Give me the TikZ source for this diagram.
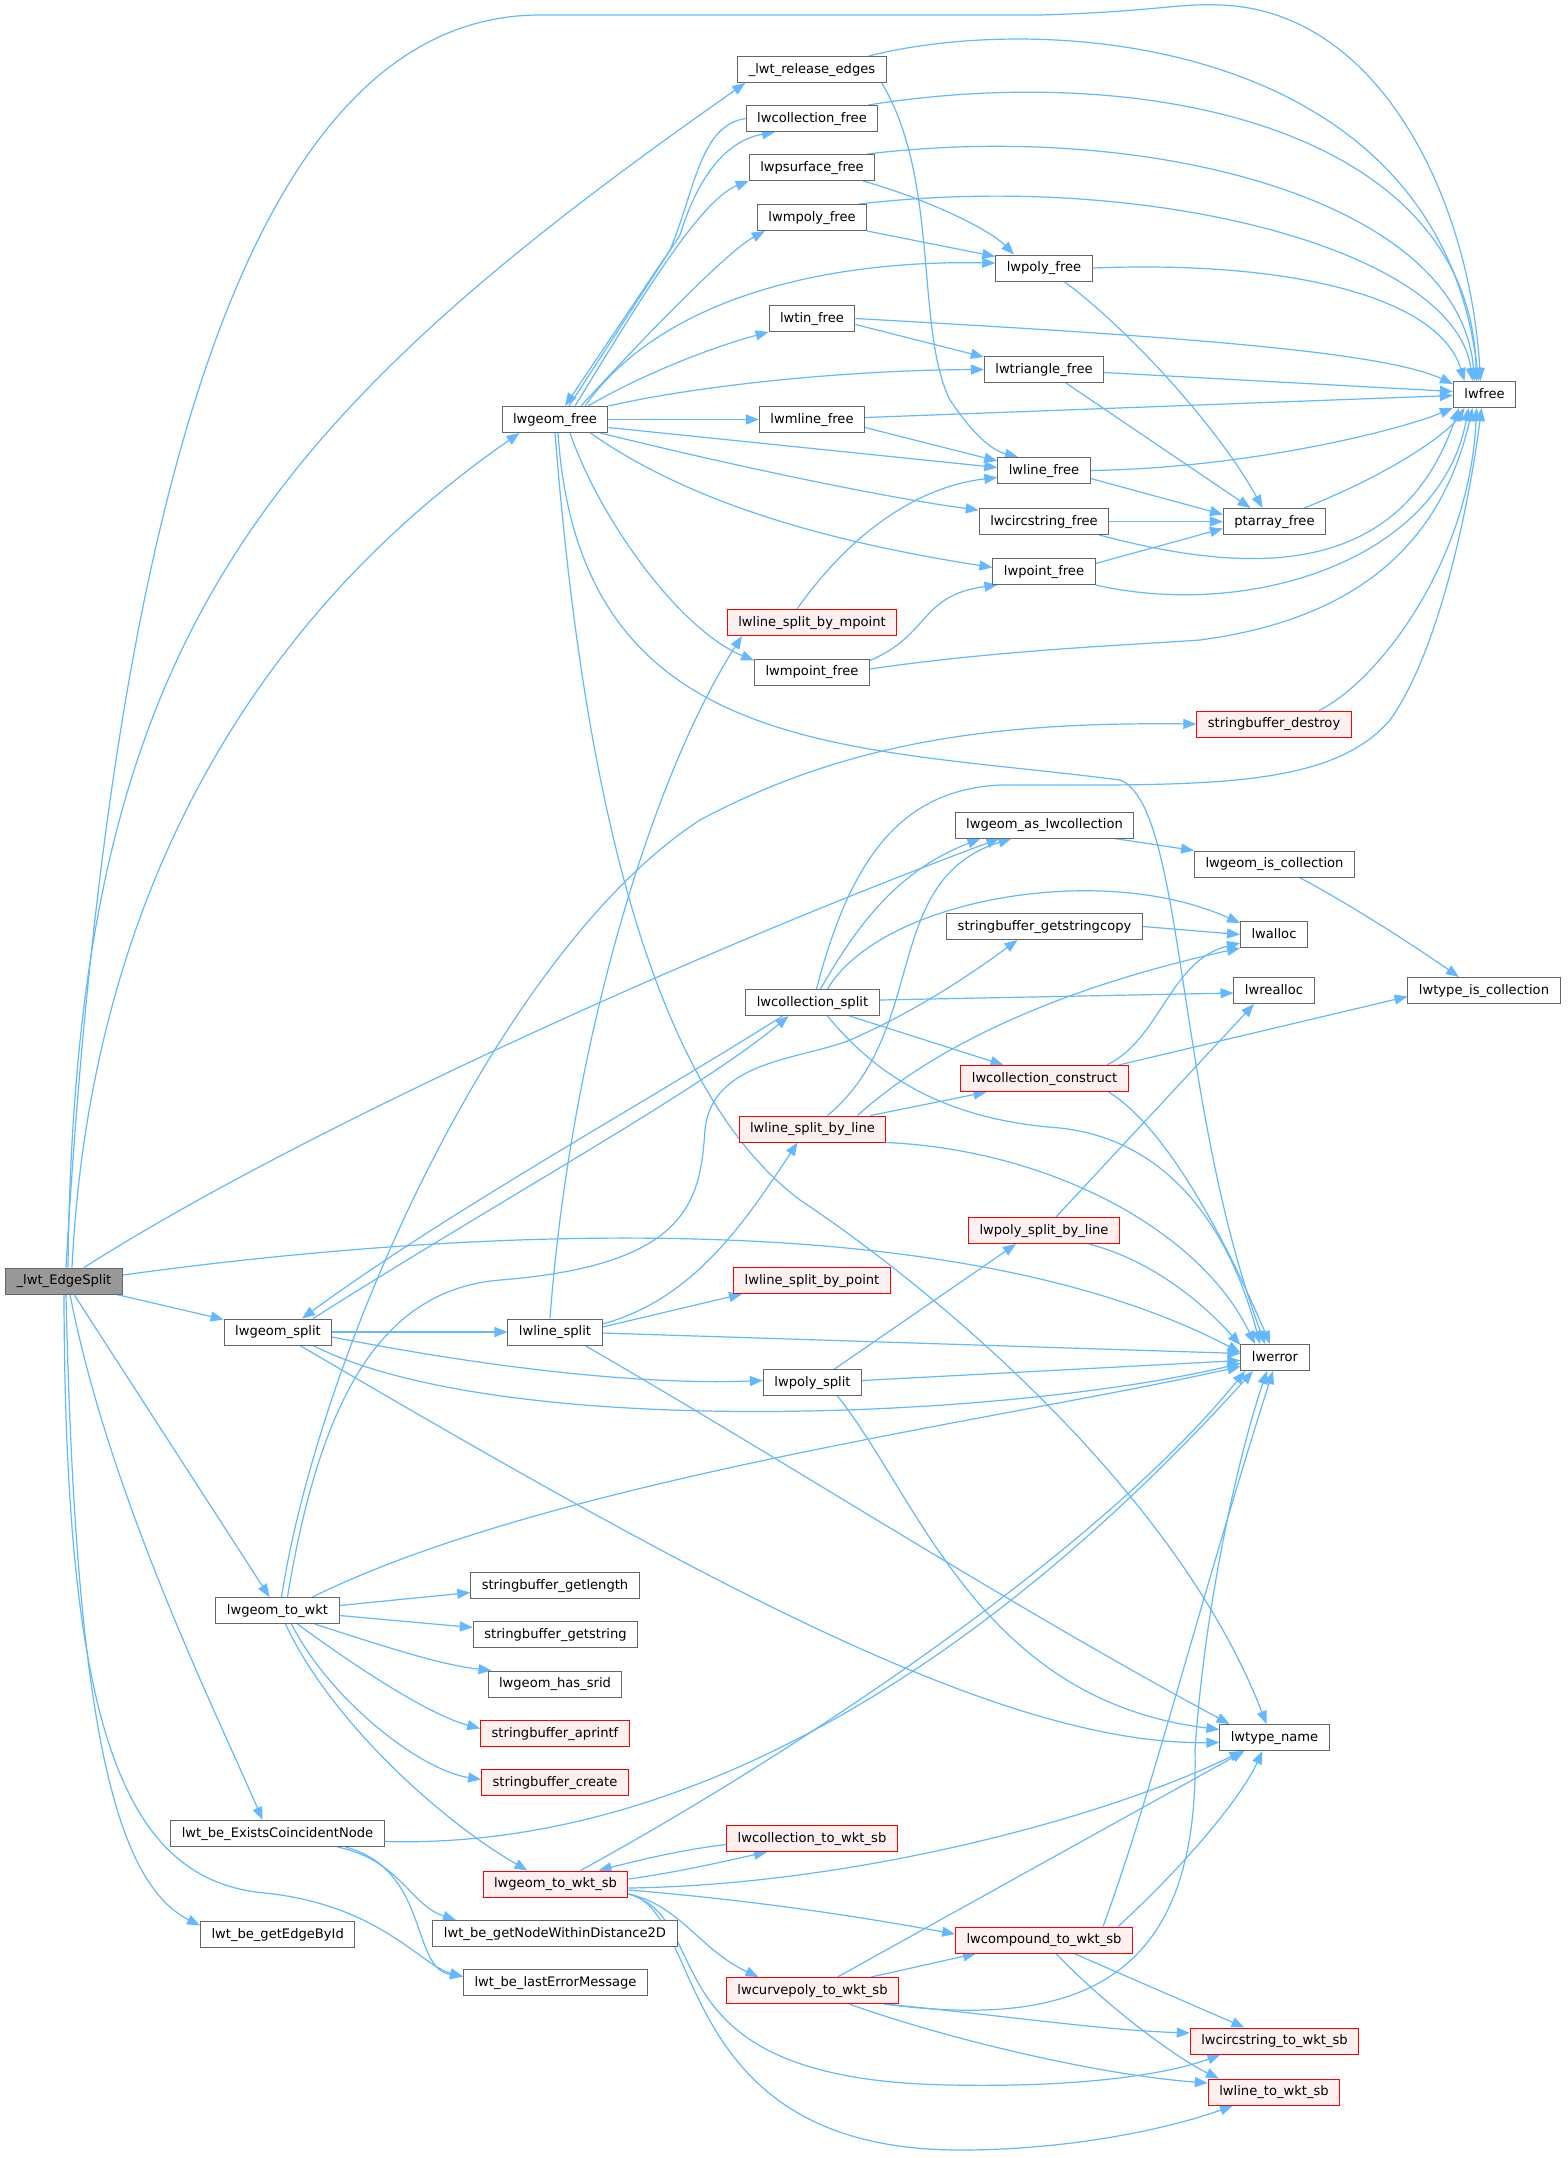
\documentclass[tikz,border=0pt]{standalone}
\usepackage{fontspec}
\setmainfont{DejaVu Sans}
\usetikzlibrary{arrows.meta}
\definecolor{edgec}{HTML}{63B8FF}
\definecolor{bordc}{HTML}{666666}
\definecolor{rootc}{HTML}{999999}
\definecolor{redfill}{HTML}{FFF0F0}
\definecolor{redb}{HTML}{FF0000}
\pgfdeclarelayer{bg}
\pgfsetlayers{bg,main}
\tikzset{
 nd/.style={draw=bordc, fill=white, line width=1pt, rectangle, inner xsep=11pt, inner ysep=0pt, minimum height=26pt, text height=10pt, text depth=3pt, font=\fontsize{13.1}{15}\selectfont},
 rootnd/.style={nd, fill=rootc},
 rednd/.style={nd, draw=redb, fill=redfill},
 cal/.style={draw=edgec, line width=1.2pt, -{Triangle[length=13pt,width=10pt]}},
}
\begin{document}
\begin{tikzpicture}[x=1pt,y=-1pt]
\useasboundingbox (0,0) rectangle (1568,2158);
\node[rootnd] (E) at (64,1281) {\_lwt\_EdgeSplit};
\node[nd] (rel) at (812,69.5) {\_lwt\_release\_edges};
\node[nd] (colfree) at (812,118.5) {lwcollection\_free};
\node[nd] (psurf) at (812,167.5) {lwpsurface\_free};
\node[nd] (mpolyf) at (812,217.5) {lwmpoly\_free};
\node[nd] (polyf) at (1044,268) {lwpoly\_free};
\node[nd] (tinf) at (812,318.5) {lwtin\_free};
\node[nd] (trif) at (1044,369.5) {lwtriangle\_free};
\node[nd] (lwfree) at (1484.5,394.5) {lwfree};
\node[nd] (gfree) at (555,419.5) {lwgeom\_free};
\node[nd] (mlinef) at (812,419.5) {lwmline\_free};
\node[nd] (linef) at (1044,470.5) {lwline\_free};
\node[nd] (circf) at (1044,521.5) {lwcircstring\_free};
\node[nd] (ptaf) at (1274.5,521.5) {ptarray\_free};
\node[nd] (pointf) at (1044,571.5) {lwpoint\_free};
\node[rednd] (lsmp) at (812,622.5) {lwline\_split\_by\_mpoint};
\node[nd] (mpointf) at (812,672) {lwmpoint\_free};
\node[rednd] (sbdestroy) at (1274,724) {stringbuffer\_destroy};
\node[nd] (asc) at (1044.5,825) {lwgeom\_as\_lwcollection};
\node[nd] (iscol) at (1274.5,864) {lwgeom\_is\_collection};
\node[nd] (sbcopy) at (1044.5,926.5) {stringbuffer\_getstringcopy};
\node[nd] (alloc) at (1274,934.5) {lwalloc};
\node[nd] (tic) at (1484,990.5) {lwtype\_is\_collection};
\node[nd] (colsplit) at (812.5,1002.5) {lwcollection\_split};
\node[nd] (realloc) at (1274,990.5) {lwrealloc};
\node[rednd] (colcons) at (1044.5,1078.5) {lwcollection\_construct};
\node[rednd] (lsl) at (812.5,1129) {lwline\_split\_by\_line};
\node[rednd] (psl) at (1044,1230.5) {lwpoly\_split\_by\_line};
\node[rednd] (lsp) at (812,1280.5) {lwline\_split\_by\_point};
\node[nd] (gsplit) at (278,1332) {lwgeom\_split};
\node[nd] (lsplit) at (555,1332) {lwline\_split};
\node[nd] (err) at (1275,1357.5) {lwerror};
\node[nd] (psplit) at (812.5,1382.5) {lwpoly\_split};
\node[nd] (towkt) at (277.5,1610.5) {lwgeom\_to\_wkt};
\node[nd] (sblen) at (555,1585.5) {stringbuffer\_getlength};
\node[nd] (sbstr) at (555.5,1634.5) {stringbuffer\_getstring};
\node[nd] (srid) at (555,1684) {lwgeom\_has\_srid};
\node[rednd] (aprintf) at (555,1733.5) {stringbuffer\_aprintf};
\node[nd] (tname) at (1274.5,1737.5) {lwtype\_name};
\node[rednd] (sbcreate) at (555,1782.5) {stringbuffer\_create};
\node[nd] (exists) at (277.5,1833.5) {lwt\_be\_ExistsCoincidentNode};
\node[rednd] (colwkt) at (812,1838.5) {lwcollection\_to\_wkt\_sb};
\node[rednd] (wktsb) at (555.5,1884) {lwgeom\_to\_wkt\_sb};
\node[nd] (nodewd) at (555,1933.5) {lwt\_be\_getNodeWithinDistance2D};
\node[rednd] (cmpwkt) at (1044,1940) {lwcompound\_to\_wkt\_sb};
\node[nd] (edgebyid) at (277.7,1934.5) {lwt\_be\_getEdgeById};
\node[nd] (lasterr) at (555.5,1982.5) {lwt\_be\_lastErrorMessage};
\node[rednd] (cpwkt) at (812.5,1990.5) {lwcurvepoly\_to\_wkt\_sb};
\node[rednd] (cswkt) at (1274.5,2041) {lwcircstring\_to\_wkt\_sb};
\node[rednd] (lwkt) at (1274,2092) {lwline\_to\_wkt\_sb};
\begin{pgfonlayer}{bg}
\fill[white] (0,0) rectangle (1568,2158);
% E
\draw[cal] ([xshift=2pt]E.north) .. controls (110,500) and (250,15) .. (540,15) -- (1040,15) .. controls (1150,12) and (1180,3) .. (1220,5) .. controls (1380,10) and (1470,200) .. ([xshift=-4pt]lwfree.north);
\draw[cal] ([xshift=4pt]E.north) .. controls (75,650) and (250,430) .. ([xshift=8pt]rel.south west);
\draw[cal] ([xshift=8pt]E.north) .. controls (90,900) and (250,620) .. ([xshift=18pt]gfree.south west);
\draw[cal] ([xshift=20pt]E.north) .. controls (300,1130) and (700,950) .. ([xshift=-45pt]asc.south);
\draw[cal] ([yshift=6pt]E.east) .. controls (450,1230) and (950,1200) .. ([yshift=5pt]err.west);
\draw[cal] ([xshift=-6pt]E.south east) -- ([yshift=-1pt]gsplit.north west);
\draw[cal] ([xshift=10pt]E.south) -- ([xshift=-8pt]towkt.north);
\draw[cal] ([xshift=6pt]E.south) .. controls (110,1500) and (220,1720) .. ([xshift=-15pt]exists.north);
\draw[cal] ([xshift=2pt]E.south) .. controls (75,1700) and (110,1880) .. ([yshift=9pt]edgebyid.west);
\draw[cal] (E.south) .. controls (65,1720) and (120,1880) .. (265,1893) .. controls (380,1905) and (420,1965) .. ([yshift=6pt]lasterr.west);
% rel
\draw[cal] ([xshift=-18pt]rel.north east) .. controls (1050,10) and (1440,40) .. ([xshift=-6pt]lwfree.north);
\draw[cal] ([xshift=-5pt]rel.south east) .. controls (940,180) and (915,330) .. (950,400) .. controls (970,430) and (990,450) .. ([xshift=-26pt]linef.north);
% colfree
\draw[cal] ([xshift=-10pt]colfree.north east) .. controls (1150,60) and (1470,130) .. ([xshift=-8pt]lwfree.north);
\draw[cal] (colfree.west) .. controls (700,125) and (695,190) .. (670,250) -- ([xshift=10pt]gfree.north);
\draw[cal] ([xshift=14pt]gfree.north) -- (680,235) .. controls (700,170) and (730,140) .. ([xshift=-37pt]colfree.south);
% psurf
\draw[cal] ([xshift=-8pt]psurf.north east) .. controls (1150,120) and (1460,200) .. ([xshift=-10pt]lwfree.north);
\draw[cal] ([xshift=-12pt]psurf.south east) .. controls (930,200) and (990,230) .. ([xshift=-30pt]polyf.north);
\draw[cal] ([xshift=20pt]gfree.north) .. controls (640,300) and (700,200) .. (psurf.south west);
% mpolyf
\draw[cal] ([xshift=-8pt]mpolyf.north east) .. controls (1150,170) and (1455,250) .. ([xshift=-12pt]lwfree.north);
\draw[cal] (mpolyf.south east) -- ([yshift=-2pt]polyf.north west);
\draw[cal] ([xshift=26pt]gfree.north) .. controls (660,320) and (730,250) .. ([xshift=8pt]mpolyf.south west);
% polyf
\draw[cal] ([xshift=30pt]gfree.north) .. controls (660,300) and (820,260) .. ([yshift=5pt]polyf.west);
\draw[cal] (polyf.east) .. controls (1300,260) and (1440,300) .. ([xshift=-20pt]lwfree.north);
\draw[cal] ([xshift=20pt]polyf.south) .. controls (1130,330) and (1220,430) .. ([xshift=-12pt]ptaf.north);
% tinf
\draw[cal] ([xshift=33pt]gfree.north) .. controls (650,370) and (720,345) .. (tinf.south west);
\draw[cal] (tinf.east) .. controls (1150,335) and (1380,350) .. ([yshift=-3pt]lwfree.north west);
\draw[cal] ([yshift=-6pt]tinf.east) -- ([yshift=-1pt]trif.north west);
% trif
\draw[cal] (gfree.north east) .. controls (700,385) and (850,370) .. (trif.west);
\draw[cal] ([yshift=-3pt]trif.east) -- ([yshift=3pt]lwfree.west);
\draw[cal] ([xshift=22pt]trif.south) -- ([xshift=-24pt]ptaf.north);
% mlinef
\draw[cal] (gfree.east) -- (mlinef.west);
\draw[cal] ([yshift=2pt]mlinef.east) -- ([yshift=-1pt]lwfree.west);
\draw[cal] ([yshift=-8pt]mlinef.east) -- ([yshift=-4pt]linef.north west);
% gfree others
\draw[cal] ([yshift=-8pt]gfree.east) -- ([yshift=3pt]linef.west);
\draw[cal] ([xshift=-8pt]gfree.south east) .. controls (750,470) and (900,500) .. ([yshift=-2pt]circf.north west);
\draw[cal] ([xshift=-18pt]gfree.south east) .. controls (700,510) and (850,545) .. ([yshift=4pt]pointf.west);
\draw[cal] ([xshift=15pt]gfree.south) .. controls (600,520) and (680,630) .. ([yshift=-2pt]mpointf.north west);
\draw[cal] ([xshift=3pt]gfree.south) .. controls (580,760) and (850,745) .. (1120,780) .. controls (1185,805) and (1175,1100) .. ([xshift=-10pt]err.north);
\draw[cal] (gfree.south) .. controls (580,750) and (640,1080) .. (800,1200) .. controls (950,1300) and (1180,1500) .. ([xshift=-8pt]tname.north);
% linef, circf, pointf, ptaf
\draw[cal] (linef.east) .. controls (1250,468) and (1400,430) .. (lwfree.south west);
\draw[cal] ([yshift=-8pt]linef.east) -- ([yshift=7pt]ptaf.west);
\draw[cal] (circf.east) -- (ptaf.west);
\draw[cal] ([xshift=-10pt]circf.south east) .. controls (1250,575) and (1400,580) .. ([xshift=6pt]lwfree.south west);
\draw[cal] ([yshift=8pt]pointf.east) -- ([yshift=-7pt]ptaf.west);
\draw[cal] (pointf.south east) .. controls (1250,620) and (1440,560) .. ([xshift=-16pt]lwfree.south);
\draw[cal] ([xshift=-22pt]ptaf.north east) .. controls (1400,470) and (1450,430) .. ([xshift=-20pt]lwfree.south);
% mpointf, lsmp, sbdestroy
\draw[cal] ([yshift=-2pt]mpointf.north east) .. controls (930,635) and (920,595) .. ([xshift=5pt]pointf.south west);
\draw[cal] ([yshift=3pt]mpointf.east) .. controls (1000,650) and (1130,645) .. (1200,640) .. controls (1350,620) and (1440,550) .. ([xshift=-12pt]lwfree.south);
\draw[cal] ([xshift=-15pt]lsmp.north) .. controls (860,520) and (930,485) .. ([yshift=-7pt]linef.west);
\draw[cal] ([xshift=45pt]sbdestroy.north) .. controls (1380,680) and (1470,560) .. ([xshift=-8pt]lwfree.south);
% towkt
\draw[cal] ([xshift=4pt]towkt.north) .. controls (320,1350) and (500,950) .. (700,820) .. controls (850,740) and (1000,722) .. (sbdestroy.west);
\draw[cal] ([xshift=10pt]towkt.north) .. controls (320,1400) and (380,1290) .. (500,1280) .. controls (690,1265) and (700,1200) .. (705,1130) .. controls (712,1060) and (800,1060) .. (850,1040) .. controls (930,1005) and (990,960) .. ([xshift=-27pt]sbcopy.south);
\draw[cal] ([xshift=35pt]towkt.north) .. controls (550,1480) and (1000,1420) .. ([yshift=-9pt]err.west);
\draw[cal] ([yshift=5pt]towkt.east) -- ([yshift=-7pt]sblen.west);
\draw[cal] ([yshift=-5pt]towkt.east) -- ([yshift=7pt]sbstr.west);
\draw[cal] ([xshift=-25pt]towkt.south east) .. controls (380,1645) and (440,1665) .. ([xshift=4pt]srid.north west);
\draw[cal] ([xshift=20pt]towkt.south) .. controls (360,1670) and (430,1715) .. ([yshift=5pt]aprintf.west);
\draw[cal] ([xshift=14pt]towkt.south) .. controls (330,1700) and (420,1770) .. ([yshift=3pt]sbcreate.west);
\draw[cal] ([xshift=8pt]towkt.south) .. controls (330,1720) and (440,1820) .. ([xshift=-28pt]wktsb.north);
% exists
\draw[cal] ([yshift=-8pt]exists.east) .. controls (700,1850) and (1000,1650) .. ([xshift=-22pt]err.south);
\draw[cal] ([xshift=60pt]exists.south) .. controls (400,1860) and (410,1905) .. ([xshift=-99pt]nodewd.north);
\draw[cal] ([xshift=68pt]exists.south) .. controls (430,1870) and (410,1968) .. ([yshift=6pt]lasterr.west);
% gsplit
\draw[cal] (gsplit.east) -- (lsplit.west);
\draw[cal] ([xshift=35pt]gsplit.north) .. controls (500,1200) and (700,1090) .. ([xshift=-24pt]colsplit.south);
\draw[cal] ([xshift=-30pt]colsplit.south) .. controls (650,1100) and (450,1210) .. ([xshift=24pt]gsplit.north);
\draw[cal] ([yshift=-5pt]gsplit.east) .. controls (500,1370) and (650,1385) .. ([yshift=2pt]psplit.west);
\draw[cal] ([xshift=35pt]gsplit.south) .. controls (500,1440) and (1000,1420) .. ([yshift=-6pt]err.west);
\draw[cal] ([xshift=22pt]gsplit.south) .. controls (700,1580) and (1000,1745) .. ([yshift=-5pt]tname.west);
% lsplit
\draw[cal] ([xshift=-5pt]lsplit.north) .. controls (570,1050) and (650,780) .. ([xshift=-70pt]lsmp.south);
\draw[cal] ([yshift=8pt]lsplit.east) .. controls (690,1300) and (740,1230) .. ([xshift=-15pt]lsl.south);
\draw[cal] ([yshift=5pt]lsplit.east) -- ([xshift=-70pt]lsp.south);
\draw[cal] ([yshift=-1pt]lsplit.east) -- ([yshift=4pt]err.west);
\draw[cal] ([xshift=30pt]lsplit.south) .. controls (800,1470) and (1000,1600) .. ([xshift=-45pt]tname.north);
% psplit
\draw[cal] ([xshift=25pt]psplit.south) .. controls (920,1500) and (980,1700) .. ([yshift=8pt]tname.west);
\draw[cal] ([xshift=22pt]psplit.north) -- ([xshift=-28pt]psl.south);
\draw[cal] ([yshift=2pt]psplit.east) -- ([yshift=-3pt]err.west);
% psl
\draw[cal] ([xshift=45pt]psl.south) .. controls (1150,1260) and (1200,1300) .. ([yshift=-1pt]err.north west);
\draw[cal] ([xshift=12pt]psl.north) -- ([xshift=-20pt]realloc.south);
% lsl
\draw[cal] (lsl.south east) .. controls (1050,1150) and (1200,1230) .. ([xshift=-20pt]err.north);
\draw[cal] ([xshift=-16pt]lsl.north east) -- ([xshift=-58pt]colcons.south);
\draw[cal] ([xshift=45pt]lsl.north) .. controls (930,1050) and (1050,990) .. (alloc.south west);
\draw[cal] ([xshift=15pt]lsl.north) .. controls (930,1030) and (880,880) .. ([xshift=-33pt]asc.south);
% colsplit
\draw[cal] ([xshift=8pt]colsplit.north) .. controls (860,920) and (900,870) .. ([xshift=-64pt]asc.south);
\draw[cal] ([xshift=4pt]colsplit.north) .. controls (850,860) and (900,790) .. (1000,785) .. controls (1200,785) and (1330,790) .. (1390,720) .. controls (1440,650) and (1470,500) .. ([xshift=-3pt]lwfree.south);
\draw[cal] ([xshift=15pt]colsplit.north) .. controls (880,900) and (1100,860) .. ([yshift=-2pt]alloc.north west);
\draw[cal] ([yshift=2.5pt]colsplit.east) -- ([yshift=-2.5pt]realloc.west);
\draw[cal] ([xshift=-30pt]colsplit.south east) -- ([xshift=-41pt]colcons.north);
\draw[cal] ([xshift=15pt]colsplit.south) .. controls (880,1080) and (950,1120) .. (1060,1128) .. controls (1170,1140) and (1230,1230) .. ([xshift=-15pt]err.north);
% colcons
\draw[cal] ([xshift=-22pt]colcons.north east) .. controls (1160,1040) and (1170,960) .. ([yshift=5pt]alloc.south west);
\draw[cal] ([xshift=-10pt]colcons.north east) -- ([yshift=-6pt]tic.west);
\draw[cal] ([xshift=-20pt]colcons.south east) .. controls (1170,1130) and (1230,1250) .. ([xshift=-5pt]err.north);
% asc, iscol, sbcopy
\draw[cal] ([xshift=-20pt]asc.south east) -- (iscol.north west);
\draw[cal] ([xshift=25pt]iscol.south) .. controls (1360,910) and (1420,950) .. ([xshift=-25pt]tic.north);
\draw[cal] (sbcopy.east) -- (alloc.west);
% wkt
\draw[cal] ([yshift=-6pt]colwkt.west) .. controls (680,1850) and (640,1860) .. ([xshift=43pt]wktsb.north);
\draw[cal] ([yshift=5pt]wktsb.east) .. controls (680,1872) and (730,1860) .. ([xshift=-45pt]colwkt.south);
\draw[cal] ([xshift=25pt]wktsb.north) .. controls (800,1750) and (1100,1550) .. ([xshift=-30pt]err.south);
\draw[cal] ([yshift=-4pt]wktsb.east) .. controls (850,1885) and (1100,1820) .. ([xshift=-32pt]tname.south);
\draw[cal] ([yshift=-6pt]wktsb.east) .. controls (750,1900) and (850,1915) .. ([yshift=6pt]cmpwkt.west);
\draw[cal] ([yshift=-10pt]wktsb.east) .. controls (680,1905) and (700,1950) .. ([xshift=-54pt]cpwkt.north);
\draw[cal] ([yshift=-10pt]wktsb.east) .. controls (720,1920) and (640,2080) .. (950,2085) .. controls (1100,2088) and (1180,2070) .. ([xshift=-54pt]cswkt.south);
\draw[cal] ([yshift=-10pt]wktsb.east) .. controls (705,1910) and (670,2150) .. (960,2150) .. controls (1080,2150) and (1180,2125) .. ([xshift=-41pt]lwkt.south);
\draw[cal] ([xshift=-28pt]cpwkt.north east) -- ([xshift=-68pt]cmpwkt.south);
\draw[cal] ([xshift=-15pt]cpwkt.south east) .. controls (1000,2015) and (1100,2030) .. ([yshift=8pt]cswkt.west);
\draw[cal] ([xshift=-50pt]cpwkt.south east) .. controls (950,2040) and (1100,2075) .. ([yshift=9pt]lwkt.west);
\draw[cal] ([xshift=25pt]cpwkt.north) -- ([xshift=-30pt]tname.south);
\draw[cal] ([xshift=-15pt]cpwkt.south east) .. controls (1080,2030) and (1200,1980) .. (1195,1750) .. controls (1205,1600) and (1240,1450) .. ([xshift=-8pt]err.south);
\draw[cal] ([xshift=-30pt]cmpwkt.north east) .. controls (1150,1800) and (1200,1600) .. ([xshift=-2pt]err.south);
\draw[cal] ([xshift=-15pt]cmpwkt.north east) .. controls (1180,1870) and (1240,1800) .. ([xshift=-12pt]tname.south);
\draw[cal] ([xshift=-59pt]cmpwkt.south east) -- ([xshift=-30pt]cswkt.north);
\draw[cal] ([xshift=12pt]cmpwkt.south) .. controls (1110,2010) and (1180,2060) .. ([xshift=-55pt]lwkt.north);
\end{pgfonlayer}
\end{tikzpicture}
\end{document}
